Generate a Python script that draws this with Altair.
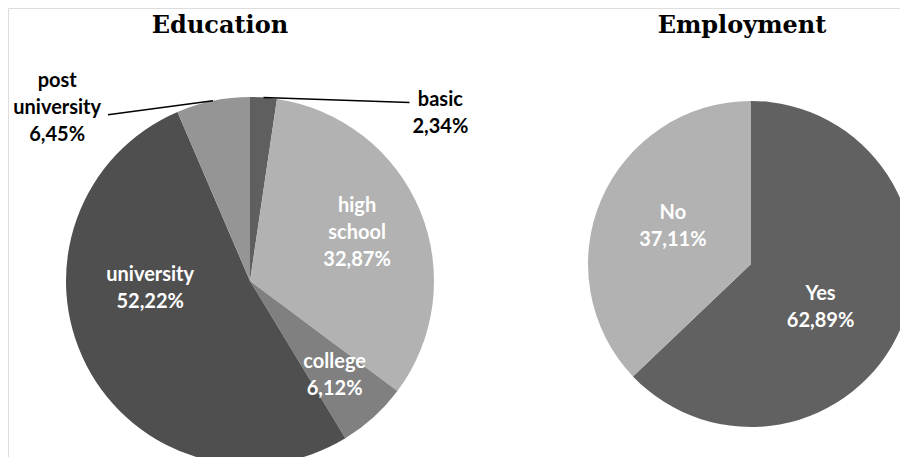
import math
import altair as alt
import pandas as pd

# ---------------- data ----------------
edu_categories = ["basic", "high school", "college", "university", "post university"]
edu_values = [2.34, 32.87, 6.12, 52.22, 6.45]
emp_categories = ["Yes", "No"]
emp_values = [62.89, 37.11]
chart_titles = ["Education", "Employment"]

# ---------------- styles ----------------
edu_colors = ["#5f5f5f", "#b2b2b2", "#808080", "#4f4f4f", "#959595"]
emp_colors = ["#616161", "#b2b2b2"]
LABEL_FONT = "Lato"
TITLE_FONT = "DejaVu Serif"
LINE_H = 27

# pie geometry (canvas pixels)
EDU_CX, EDU_CY, EDU_R = 242, 273, 184
EMP_CX, EMP_CY, EMP_R = 743, 256, 163


def frame(cats, vals):
    df = pd.DataFrame({"cat": cats, "value": vals, "order": list(range(len(cats)))})
    df["label"] = [
        c.replace(" ", "\n") + "\n" + f"{v:.2f}".replace(".", ",") + "%"
        for c, v in zip(cats, vals)
    ]
    return df


edu_df = frame(edu_categories, edu_values)
emp_df = frame(emp_categories, emp_values)

theta_scale = alt.Scale(domain=[0, 100], range=[0, 2 * math.pi])
color_scale = alt.Scale(domain=edu_categories + emp_categories, range=edu_colors + emp_colors)


def base(df):
    return (
        alt.Chart(df)
        .transform_window(end="sum(value)", sort=[alt.SortField("order")])
        .transform_calculate(start="datum.end - datum.value")
        .transform_calculate(mid="datum.end - datum.value / 2")
    )


def pie(df, cx, cy, r):
    return base(df).mark_arc(radius=r).encode(
        theta=alt.Theta("start:Q", scale=theta_scale, stack=False),
        theta2="end:Q",
        color=alt.Color("cat:N", scale=color_scale, legend=None),
        x=alt.value(cx),
        y=alt.value(cy),
    )


def label(df, cat, cx, cy, r, dx, dy, color):
    n_lines = cat.count(" ") + 2
    return (
        base(df)
        .transform_filter(alt.datum.cat == cat)
        .mark_text(
            radius=r, dx=dx, dy=dy - LINE_H * (n_lines - 1) / 2, font=LABEL_FONT,
            fontWeight="bold", fontSize=20, lineBreak="\n", lineHeight=LINE_H,
            color=color, align="center", baseline="middle",
        )
        .encode(
            theta=alt.Theta("mid:Q", scale=theta_scale, stack=False),
            text="label:N",
            x=alt.value(cx),
            y=alt.value(cy),
        )
    )


def leader(df, cat, cx, cy, r, ex, ey):
    return (
        base(df)
        .transform_filter(alt.datum.cat == cat)
        .transform_calculate(lx=f"{cx} + {r} * sin(datum.mid / 100 * 2 * PI)")
        .transform_calculate(ly=f"{cy} - {r} * cos(datum.mid / 100 * 2 * PI)")
        .transform_calculate(lx2=f"datum.lx + {ex}")
        .transform_calculate(ly2=f"datum.ly + {ey}")
        .mark_rule(color="black", strokeWidth=1.3)
        .encode(
            x=alt.X("lx:Q", scale=None, axis=None),
            y=alt.Y("ly:Q", scale=None, axis=None),
            x2="lx2:Q",
            y2="ly2:Q",
        )
    )


title_df = pd.DataFrame({"title": chart_titles})


def title(i, x):
    return (
        alt.Chart(title_df)
        .transform_filter(alt.datum.title == chart_titles[i])
        .mark_text(font=TITLE_FONT, fontWeight="bold", fontSize=24, color="black",
                   align="center", baseline="alphabetic")
        .encode(text="title:N", x=alt.value(x), y=alt.value(25))
    )


W = "white"
K = "black"
layers = [
    pie(edu_df, EDU_CX, EDU_CY, EDU_R),
    pie(emp_df, EMP_CX, EMP_CY, EMP_R),
    leader(edu_df, "basic", EDU_CX, EDU_CY, EDU_R, 146, 5),
    leader(edu_df, "post university", EDU_CX, EDU_CY, EDU_R, -105, 14),
    label(edu_df, "basic", EDU_CX, EDU_CY, 168, 178, 0, K),
    label(edu_df, "high school", EDU_CX, EDU_CY, 118, -2, -3, W),
    label(edu_df, "college", EDU_CX, EDU_CY, 126, 0, 1, W),
    label(edu_df, "university", EDU_CX, EDU_CY, 92, -18, -35, W),
    label(edu_df, "post university", EDU_CX, EDU_CY, 178, -157, 1, K),
    label(emp_df, "Yes", EMP_CX, EMP_CY, 80, -4, 12, W),
    label(emp_df, "No", EMP_CX, EMP_CY, 85, 0, -4, W),
    title(0, 212),
    title(1, 734),
]

chart = (
    alt.layer(*layers)
    .properties(width=892, height=449, padding=0,
                autosize=alt.AutoSizeParams(type="none"))
    .configure_view(stroke="transparent", strokeWidth=0)
    .configure(background="white")
)

chart.save("out.html", embed_options={"renderer": "svg", "actions": False})
